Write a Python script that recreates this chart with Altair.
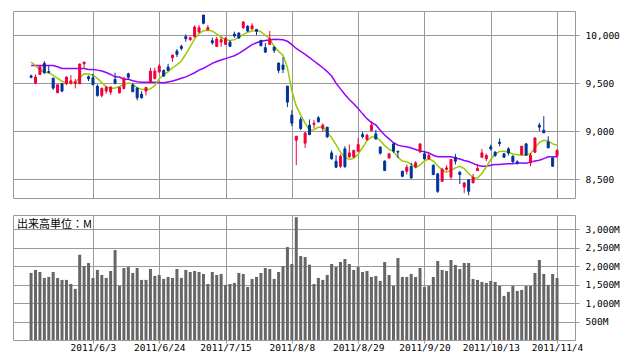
import altair as alt
import pandas as pd

# ---- data (Nikkei-like daily candles, 120 sessions) ----
open_ = [9575, 9500, 9590, 9705, 9620, 9552, 9400, 9493, 9493, 9497,
         9497, 9493, 9701, 9566, 9555, 9469, 9372, 9417, 9406, 9538,
         9399, 9444, 9597, 9479, 9448, 9385, 9417, 9510, 9549, 9615,
         9632, 9667, 9764, 9833, 9882, 9983, 9951, 9983, 10031, 10208,
         10056, 9941, 9882, 9927, 9903, 9927, 10010, 10021, 10076, 10090,
         10063, 10059, 9944, 9868, 9903, 9875, 9708, 9688, 9469, 9167,
         8906, 9122, 8875, 9063, 9070, 9139, 9028, 9042, 8774, 8688,
         8635, 8816, 8733, 8733, 8792, 8965, 8913, 9007, 8972, 8833,
         8688, 8722, 8868, 8790, 8583, 8583, 8632, 8628, 8785, 8764,
         8712, 8646, 8556, 8479, 8604, 8524, 8729, 8573, 8420, 8493,
         8462, 8590, 8729, 8712, 8837, 8781, 8885, 8764, 8816, 8740,
         8681, 8757, 8868, 8670, 8781, 9063, 9010, 8889, 8722, 8747]
high = [9590, 9590, 9688, 9729, 9677, 9552, 9486, 9503, 9570, 9583,
        9542, 9705, 9719, 9580, 9597, 9486, 9455, 9469, 9469, 9608,
        9462, 9566, 9608, 9503, 9458, 9417, 9458, 9660, 9660, 9701,
        9642, 9701, 9792, 9854, 9899, 10007, 9983, 10101, 10104, 10208,
        10104, 9972, 9979, 9979, 9979, 9944, 10035, 10028, 10146, 10104,
        10122, 10059, 9951, 9917, 10042, 9882, 9715, 9771, 9469, 9219,
        8948, 9146, 8983, 9122, 9118, 9156, 9080, 9042, 8799, 8750,
        8757, 8844, 8861, 8809, 8930, 8993, 8972, 9104, 9014, 8844,
        8698, 8774, 8882, 8799, 8590, 8653, 8670, 8688, 8868, 8792,
        8774, 8653, 8566, 8618, 8646, 8712, 8764, 8583, 8469, 8497,
        8556, 8660, 8816, 8768, 8861, 8792, 8924, 8774, 8833, 8747,
        8698, 8844, 8875, 8774, 8930, 9087, 9156, 8948, 8722, 8816]
low = [9550, 9490, 9583, 9597, 9600, 9430, 9396, 9406, 9479, 9486,
       9445, 9493, 9660, 9521, 9479, 9358, 9351, 9389, 9378, 9486,
       9392, 9434, 9538, 9410, 9320, 9340, 9372, 9510, 9538, 9608,
       9566, 9625, 9722, 9771, 9840, 9930, 9941, 9976, 10021, 10111,
       10049, 9899, 9875, 9878, 9899, 9875, 9972, 9962, 10066, 10031,
       10056, 10000, 9882, 9813, 9903, 9813, 9604, 9604, 9250, 9052,
       8646, 9010, 8826, 8958, 9028, 9090, 8993, 8930, 8705, 8618,
       8618, 8618, 8722, 8722, 8785, 8924, 8903, 9000, 8910, 8757,
       8587, 8712, 8774, 8722, 8521, 8549, 8503, 8618, 8774, 8702,
       8702, 8542, 8358, 8472, 8590, 8497, 8653, 8451, 8358, 8333,
       8462, 8590, 8722, 8688, 8799, 8733, 8844, 8722, 8747, 8670,
       8653, 8750, 8747, 8635, 8774, 9000, 8983, 8826, 8635, 8722]
close = [9560, 9563, 9670, 9608, 9612, 9448, 9483, 9417, 9563, 9524,
         9514, 9698, 9719, 9545, 9483, 9372, 9444, 9455, 9458, 9500,
         9455, 9549, 9562, 9410, 9347, 9347, 9455, 9625, 9625, 9677,
         9573, 9632, 9792, 9799, 9861, 9962, 9972, 10083, 10076, 10122,
         10076, 9920, 9958, 9951, 9962, 9882, 9990, 9969, 10135, 10042,
         10097, 10038, 9889, 9823, 9962, 9840, 9632, 9642, 9302, 9083,
         8948, 9028, 8983, 8965, 9083, 9097, 9063, 8941, 8712, 8625,
         8740, 8632, 8774, 8799, 8861, 8944, 8958, 9063, 8920, 8771,
         8590, 8764, 8792, 8782, 8531, 8625, 8514, 8670, 8868, 8712,
         8750, 8549, 8375, 8604, 8618, 8705, 8688, 8549, 8462, 8375,
         8521, 8611, 8774, 8747, 8816, 8747, 8872, 8729, 8774, 8681,
         8663, 8844, 8750, 8750, 8930, 9042, 8983, 8826, 8635, 8799]
volume = [1820, 1900, 1845, 1683, 1710, 1845, 1683, 1630, 1630, 1520,
          1386, 2313, 2007, 2088, 1683, 1900, 1764, 1683, 1872, 2439,
          1467, 1953, 1980, 1818, 1953, 1630, 1630, 1926, 1737, 1764,
          1656, 1710, 1683, 1926, 1683, 1900, 1845, 1872, 1845, 1791,
          1520, 1845, 1764, 1791, 1494, 1520, 1548, 1818, 1791, 1440,
          1656, 1710, 1818, 1953, 1926, 1656, 1845, 2007, 2520, 2061,
          3330, 2277, 2250, 2043, 1520, 1683, 1630, 1764, 2061, 1980,
          2115, 2196, 2061, 1900, 1980, 1845, 1872, 1710, 1737, 1602,
          2115, 1764, 1467, 2223, 1710, 1710, 1791, 1710, 1953, 1440,
          1467, 1710, 2142, 1900, 1872, 2169, 2034, 1926, 2088, 2088,
          1656, 1630, 1575, 1548, 1602, 1575, 1467, 1197, 1305, 1467,
          1332, 1359, 1467, 1467, 1818, 2169, 1791, 1494, 1791, 1683]
ma_short = [9719, 9680, 9640, 9612, 9608, 9580, 9550, 9520, 9500, 9497,
            9505, 9560, 9598, 9595, 9585, 9550, 9505, 9462, 9444, 9450,
            9465, 9485, 9502, 9490, 9450, 9435, 9431, 9440, 9475, 9545,
            9585, 9620, 9660, 9690, 9730, 9800, 9880, 9960, 10015, 10045,
            10050, 10042, 10010, 9980, 9950, 9944, 9952, 9975, 10005, 10030,
            10042, 10049, 10035, 9998, 9960, 9880, 9830, 9790, 9660, 9420,
            9260, 9170, 9085, 9010, 9015, 9042, 9040, 8990, 8931, 8860,
            8780, 8730, 8705, 8718, 8760, 8830, 8900, 8940, 8940, 8900,
            8850, 8810, 8790, 8730, 8690, 8681, 8660, 8620, 8650, 8690,
            8712, 8690, 8640, 8595, 8573, 8590, 8618, 8635, 8610, 8560,
            8515, 8512, 8560, 8630, 8705, 8765, 8790, 8792, 8780, 8762,
            8755, 8750, 8755, 8765, 8826, 8885, 8905, 8898, 8868, 8854]
ma_long = [9684, 9684, 9684, 9684, 9684, 9684, 9670, 9653, 9653, 9653,
           9653, 9653, 9653, 9642, 9642, 9635, 9625, 9610, 9590, 9565,
           9563, 9540, 9539, 9525, 9515, 9510, 9510, 9510, 9508, 9506,
           9504, 9512, 9521, 9535, 9550, 9565, 9585, 9608, 9635, 9655,
           9680, 9705, 9725, 9740, 9755, 9770, 9785, 9810, 9838, 9870,
           9900, 9920, 9935, 9943, 9948, 9955, 9953, 9950, 9935, 9900,
           9860, 9830, 9799, 9765, 9730, 9694, 9660, 9620, 9573, 9500,
           9440, 9382, 9330, 9285, 9236, 9180, 9130, 9090, 9065, 9010,
           8960, 8920, 8880, 8855, 8844, 8838, 8825, 8809, 8795, 8785,
           8774, 8750, 8735, 8733, 8733, 8733, 8722, 8710, 8695, 8685,
           8665, 8645, 8636, 8636, 8645, 8653, 8653, 8658, 8660, 8660,
           8668, 8670, 8667, 8678, 8690, 8698, 8715, 8733, 8733, 8733]
tick_idx = [14, 29, 44, 59, 74, 89, 104, 119]
tick_labels = ["2011/6/3", "2011/6/24", "2011/7/15", "2011/8/8",
               "2011/8/29", "2011/9/20", "2011/10/13", "2011/11/4"]
price_ticks = [8500, 9000, 9500, 10000]
vol_ticks = [500, 1000, 1500, 2000, 2500, 3000]
vol_title = ["出来高単位：M"]

df = pd.DataFrame({
    "i": list(range(len(close))),
    "open": open_, "high": high, "low": low, "close": close,
    "volume": volume, "ma_short": ma_short, "ma_long": ma_long,
})

RED = "#f0003c"
BLUE = "#003399"
GRID = "#999999"
FONT = "DejaVu Sans Mono"
W = 562

x_scale = alt.Scale(domain=[-2.96, 121.93], nice=False, zero=False)
x_axis_price = alt.Axis(values=tick_idx, labels=False, ticks=False, domain=False,
                        grid=True, gridColor=GRID, title=None)
label_expr = ("[" + ",".join("'%s'" % s for s in tick_labels) + "][indexof(["
              + ",".join(str(v) for v in tick_idx) + "], datum.value)]")
x_axis_vol = alt.Axis(values=tick_idx, labelExpr=label_expr, ticks=True, tickSize=3,
                      tickColor=GRID, domain=False, grid=True, gridColor=GRID,
                      title=None, labelPadding=-1, labelFont=FONT, labelFontSize=9.5,
                      labelColor="#000000")

p_scale = alt.Scale(domain=[8305, 10250], nice=False, zero=False)
p_axis = alt.Axis(orient="right", values=price_ticks,
                  labelExpr="format(datum.value, ',')", grid=True,
                  gridColor=GRID, ticks=True, tickSize=4, tickColor=GRID,
                  domain=False, labelPadding=6, title=None, labelFont=FONT,
                  labelFontSize=9.5, labelColor="#000000")

color = alt.condition("datum.close >= datum.open", alt.value(RED), alt.value(BLUE))

base = alt.Chart(df)
wick = base.mark_rule(strokeWidth=1).encode(
    x=alt.X("i:Q", scale=x_scale, axis=x_axis_price),
    y=alt.Y("low:Q", scale=p_scale, axis=p_axis),
    y2="high:Q",
    color=color,
)
body = base.mark_bar(size=2, strokeWidth=1).encode(
    x=alt.X("i:Q", scale=x_scale, axis=x_axis_price),
    y=alt.Y("open:Q", scale=p_scale, axis=p_axis),
    y2="close:Q",
    color=color,
    stroke=color,
)
line_long = base.mark_line(color="#9900ff", strokeWidth=1.5).encode(
    x=alt.X("i:Q", scale=x_scale, axis=x_axis_price),
    y=alt.Y("ma_long:Q", scale=p_scale, axis=p_axis),
)
line_short = base.mark_line(color="#99cc00", strokeWidth=1.5).encode(
    x=alt.X("i:Q", scale=x_scale, axis=x_axis_price),
    y=alt.Y("ma_short:Q", scale=p_scale, axis=p_axis),
)
price = alt.layer(line_long, line_short, wick, body).properties(width=W, height=187)

v_scale = alt.Scale(domain=[0, 3390], nice=False, zero=True)
v_axis = alt.Axis(orient="right", values=vol_ticks,
                  labelExpr="format(datum.value, ',') + 'M'", grid=True,
                  gridColor=GRID, ticks=True, tickSize=4, tickColor=GRID,
                  domain=False, labelPadding=6, title=None, labelFont=FONT,
                  labelFontSize=9.5, labelColor="#000000")
vbars = base.mark_bar(size=3, color="#666666").encode(
    x=alt.X("i:Q", scale=x_scale, axis=x_axis_vol),
    y=alt.Y("volume:Q", scale=v_scale, axis=v_axis),
)
vtext = alt.Chart(pd.DataFrame({"t": vol_title})).mark_text(
    align="left", baseline="top", font="Noto Sans CJK JP", fontSize=11,
    color="#000000",
).encode(x=alt.value(4), y=alt.value(4), text="t:N")
vol = alt.layer(vbars, vtext).properties(width=W, height=125)

chart = alt.vconcat(price, vol, spacing=15).properties(
    padding={"left": 4, "top": 2, "right": 5, "bottom": 5},
    background="#ffffff",
).configure_view(stroke=GRID, strokeWidth=1)

chart.save("out.html", embed_options={"renderer": "svg", "actions": False})
